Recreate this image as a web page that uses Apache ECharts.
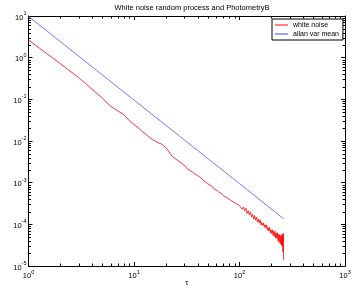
<!DOCTYPE html>
<html><head><meta charset="utf-8">
<script src="https://cdn.jsdelivr.net/npm/echarts@6/dist/echarts.min.js"></script>
<style>html,body{margin:0;padding:0;background:#fff}#c{width:354px;height:290px}</style>
</head><body><div id="c"></div>
<script>
const titleText = 'White noise random process and PhotometryB';
const xName = 'τ';
const yName = 'Allan variance';
const seriesNames = ['white noise', 'allan var mean'];

const tauBlue = [1, 10, 100, 262];
const allanVarMean = [9.8, 0.096, 9.5e-4, 1.36e-4];

const tauRed = [1,2,3,4,5,6,7,8,9,10,11,12,13,14,15,16,17,18,19,20,21,22,23,24,
  26,28,30,32,34,36,38,40,42,44,46,48,50,52,
  55,58,61,64,67,70,73,76,79,82,85,88,91,94,97,100,
  103,106,109,112,115,118,121,124,127,130,133,136,139,142,145,148,151,154,157,160,
  163,166,169,172,175,178,181,184,187,190,193,196,199,202,205,208,211,214,217,220,
  223,226,229,232,235,238,241,244,247,250,252,254,256,258,260,262];
const whiteNoise = [2.65,0.72,0.33,0.175,0.108,0.068,0.053,0.043,0.031,0.025,0.0205,0.0168,0.0145,0.0122,0.0108,0.0098,0.0090,0.0086,0.0078,0.0069,0.0060,0.0050,0.0043,0.0039,
  0.0034,0.0030,0.0026,0.00215,0.00195,0.00178,0.00160,0.00148,0.00137,0.00124,0.00110,0.00102,0.00094,0.00088,
  0.00082,0.00069,0.00066,0.00058,0.00056,0.00049,0.00049,0.00044,0.00043,0.00038,0.00038,0.00034,0.00034,0.00031,0.00031,0.00028,
  3.0e-4,2.31e-4,2.61e-4,2.11e-4,2.43e-4,1.83e-4,2.11e-4,1.68e-4,1.99e-4,1.51e-4,1.74e-4,1.35e-4,1.62e-4,1.26e-4,1.50e-4,1.14e-4,1.34e-4,1.07e-4,1.29e-4,9.7e-5,
  1.11e-4,9.4e-5,1.07e-4,8.5e-5,9.8e-5,8.2e-5,9.6e-5,7.2e-5,8.3e-5,7.0e-5,8.5e-5,6.3e-5,7.4e-5,6.0e-5,7.4e-5,5.4e-5,6.8e-5,5.2e-5,6.8e-5,4.7e-5,
  6.1e-5,4.6e-5,6.3e-5,4.0e-5,5.6e-5,3.7e-5,5.8e-5,3.45e-5,5.3e-5,3.1e-5,5.5e-5,3.1e-5,5.9e-5,2.2e-5,6.0e-5,1.4e-5];

const xTickValues = [1, 10, 100, 1000];
const yTickValues = [1e-5, 1e-4, 1e-3, 1e-2, 1e-1, 1, 10];
const minorMultipliers = [2,3,4,5,6,7,8,9];

(function () {
const FONT = 'Liberation Sans, Arial, Helvetica, sans-serif';
const chart = echarts.init(document.getElementById('c'), null, {renderer: 'canvas'});

function expLabel(v) {
  const e = Math.round(Math.log10(v));
  return '{b|10}{e|' + e + '}';
}
const rich = {
  b: {fontSize: 7.5, fontFamily: FONT, color: '#000', lineHeight: 11, verticalAlign: 'bottom'},
  e: {fontSize: 5.5, fontFamily: FONT, color: '#000', lineHeight: 11, verticalAlign: 'top'}
};

const baseLog = {
  type: 'log', logBase: 10,
  axisLine: {show: true, onZero: false, lineStyle: {color: '#000', width: 1}},
  axisTick: {show: true, inside: true, length: 4, lineStyle: {color: '#000', width: 1}},
  splitLine: {show: false},
  minorTick: {show: false},
  minorSplitLine: {show: false}
};

chart.setOption({
  animation: false,
  backgroundColor: '#fff',
  title: {
    text: titleText, left: 187, top: -1, textAlign: 'center',
    textStyle: {fontSize: 7.5, fontWeight: 'normal', fontFamily: FONT, color: '#000'}
  },
  grid: {left: 28.5, right: 9, top: 16, bottom: 24, containLabel: false, outerBoundsMode: 'none'},
  legend: {
    data: seriesNames, orient: 'vertical', left: 272, top: 19,
    backgroundColor: '#fff', borderColor: '#000', borderWidth: 1, borderRadius: 0,
    padding: [2, 4, 2, 3], itemGap: 1, itemWidth: 13, itemHeight: 1, icon: 'rect',
    textStyle: {fontSize: 7, fontFamily: FONT, color: '#000', lineHeight: 8}
  },
  xAxis: [
    Object.assign({}, baseLog, {
      min: 1, max: 1000, position: 'bottom',
      name: xName, nameLocation: 'middle', nameGap: 13, nameMoveOverlap: false,
      nameTextStyle: {fontSize: 8, fontFamily: FONT, color: '#000'},
      axisLabel: {show: true, margin: 3, formatter: expLabel, rich: rich, showMinLabel: true, showMaxLabel: true}
    }),
    Object.assign({}, baseLog, {
      min: 1, max: 1000, position: 'top', axisLabel: {show: false}
    })
  ],
  yAxis: [
    Object.assign({}, baseLog, {
      min: 1e-5, max: 10, position: 'left',
      name: yName, nameLocation: 'middle', nameGap: 18,
      nameTextStyle: {fontSize: 7.5, fontFamily: FONT, color: '#000'},
      axisLabel: {show: true, margin: 2, formatter: expLabel, rich: rich, showMinLabel: true, showMaxLabel: true}
    }),
    Object.assign({}, baseLog, {
      min: 1e-5, max: 10, position: 'right', axisLabel: {show: false}
    })
  ],
  series: [
    {
      name: seriesNames[0], type: 'line', xAxisIndex: 0, yAxisIndex: 0,
      data: tauRed.map((t, i) => [t, whiteNoise[i]]),
      showSymbol: false, symbol: 'none', color: '#ff0000',
      lineStyle: {color: '#ff0000', width: 0.8}, z: 3
    },
    {
      name: seriesNames[1], type: 'line', xAxisIndex: 0, yAxisIndex: 0,
      data: tauBlue.map((t, i) => [t, allanVarMean[i]]),
      showSymbol: false, symbol: 'none', color: '#3344ff',
      lineStyle: {color: '#3344ff', width: 0.7}, z: 3
    }
  ]
});

// minor ticks placed through the axes' own scales
const g = [];
const yTop = chart.convertToPixel({yAxisIndex: 0}, 10);
const yBot = chart.convertToPixel({yAxisIndex: 0}, 1e-5);
const xLeft = chart.convertToPixel({xAxisIndex: 0}, 1);
const xRight = chart.convertToPixel({xAxisIndex: 0}, 1000);
const L = 2.5;
const ls = {stroke: '#000', lineWidth: 1};
for (let d = 0; d < 3; d++) {
  minorMultipliers.forEach(m => {
    const x = Math.round(chart.convertToPixel({xAxisIndex: 0}, m * Math.pow(10, d))) + 0.5;
    g.push({type: 'line', shape: {x1: x, y1: yBot, x2: x, y2: yBot - L}, style: ls, silent: true});
    g.push({type: 'line', shape: {x1: x, y1: yTop, x2: x, y2: yTop + L}, style: ls, silent: true});
  });
}
for (let d = -5; d < 1; d++) {
  minorMultipliers.forEach(m => {
    const y = Math.round(chart.convertToPixel({yAxisIndex: 0}, m * Math.pow(10, d))) + 0.5;
    g.push({type: 'line', shape: {x1: xLeft, y1: y, x2: xLeft + L, y2: y}, style: ls, silent: true});
    g.push({type: 'line', shape: {x1: xRight, y1: y, x2: xRight - L, y2: y}, style: ls, silent: true});
  });
}
chart.setOption({graphic: g});
})();
</script>
</body></html>
